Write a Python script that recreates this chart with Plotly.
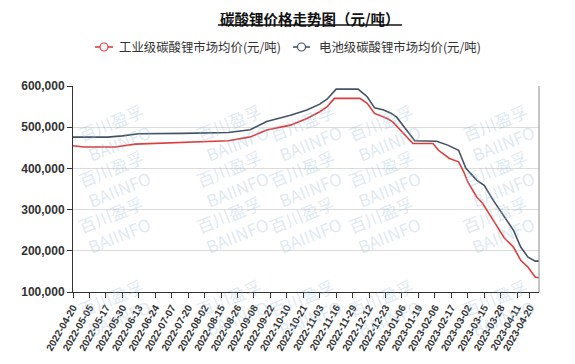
import plotly.graph_objects as go

# ---- data (trading-day index along the category axis, price in 元/吨) ----
tick_labels = [
    "2022-04-20", "2022-05-05", "2022-05-17", "2022-05-30", "2022-06-13", "2022-06-24",
    "2022-07-07", "2022-07-20", "2022-08-02", "2022-08-15", "2022-08-26", "2022-09-08",
    "2022-09-22", "2022-10-10", "2022-10-21", "2022-11-03", "2022-11-16", "2022-11-29",
    "2022-12-12", "2022-12-23", "2023-01-06", "2023-01-19", "2023-02-06", "2023-02-17",
    "2023-03-02", "2023-03-15", "2023-03-28", "2023-04-11", "2023-04-20",
]
tick_index = [0, 9, 18, 27, 36, 45, 54, 63, 72, 81, 90, 99, 108, 117, 126, 135, 144,
              153, 162, 171, 180, 189, 198, 207, 216, 225, 234, 243, 250]

industrial_idx = [0, 6, 23, 28, 34, 85, 97, 106, 119, 128, 135, 139, 143, 157, 161, 165,
                  172, 175, 181, 186, 197, 200, 206, 211, 214, 216, 221, 224, 230, 236,
                  241, 245, 249, 253, 255]
industrial_val = [455000, 452000, 452000, 456000, 459000, 467000, 476500, 493000, 505000,
                  521000, 537500, 549500, 570000, 570000, 558000, 533500, 521000, 513000,
                  485000, 460500, 460500, 444000, 424000, 416000, 390000, 367000, 330000,
                  316000, 274000, 231000, 209000, 177000, 160000, 136000, 135000]

battery_idx = [0, 19, 27, 36, 60, 85, 97, 106, 119, 128, 135, 139, 144, 156, 161, 165,
               170, 174, 177, 183, 187, 199, 205, 211, 215, 221, 225, 230, 236, 241, 245,
               249, 253, 255]
battery_val = [476000, 476000, 479000, 484000, 485000, 487000, 494000, 514000, 529000,
               542000, 556000, 568000, 592500, 592500, 574000, 547000, 542000, 534000,
               525000, 489000, 467000, 466000, 456500, 444000, 400000, 371000, 359000,
               322500, 282000, 250000, 209000, 184500, 175000, 175000]

series_names = ["工业级碳酸锂市场均价(元/吨)", "电池级碳酸锂市场均价(元/吨)"]
series_colors = ["#dc3e3e", "#435366"]
title_text = "碳酸锂价格走势图（元/吨）"

# ---- layout geometry (pixels in the 575x364 window) ----
W, H = 575, 364
OFF = 8  # default page body margin offsets the figure by 8px
L, R, T, B = 73, 539, 86, 292


def px(x, y):
    return (x - L) / (R - L), (B - y) / (B - T)


fig = go.Figure()
for xs, ys, name, col in [(industrial_idx, industrial_val, series_names[0], series_colors[0]),
                          (battery_idx, battery_val, series_names[1], series_colors[1])]:
    fig.add_trace(go.Scatter(x=xs, y=ys, mode="lines", line=dict(color=col, width=1.6),
                             showlegend=False, name=name))

ann = []
shapes = []

# watermark
for cy in [95, 178, 262, 345]:
    for cx in [72, 190, 306, 428, 542]:
        xp, yp = px(cx, cy)
        ann.append(dict(x=xp, y=yp, xref="paper", yref="paper", showarrow=False,
                        text="百川盈孚<br>BAIINFO", textangle=-22,
                        font=dict(family="Noto Sans CJK SC", size=17,
                                  color="rgba(150,185,215,0.33)"),
                        align="center"))

# title + underline
tx, ty = px(310, 18.5)
ann.append(dict(x=tx, y=ty, xref="paper", yref="paper", showarrow=False, text=title_text,
                xanchor="center", yanchor="middle", borderpad=0,
                font=dict(family="Noto Sans CJK SC", size=14.5, color="#111", weight="bold")))
ux0, uy = px(218, 25)
ux1, _ = px(402, 25)
shapes.append(dict(type="line", xref="paper", yref="paper", x0=ux0, x1=ux1, y0=uy, y1=uy,
                   line=dict(color="#111", width=1.5)))

# right frame line
shapes.append(dict(type="line", xref="paper", yref="paper", x0=1, x1=1, y0=0, y1=1,
                   line=dict(color="#a0a0a0", width=1.2)))

# legend (line + hollow circle + label)
legend_pos = [(95, 113, 117), (293, 310, 317)]
for (x0, x1, xt), name, col in zip(legend_pos, series_names, series_colors):
    a, yy = px(x0, 47)
    b, _ = px(x1, 47)
    shapes.append(dict(type="line", xref="paper", yref="paper", x0=a, x1=b, y0=yy, y1=yy,
                       line=dict(color=col, width=1.6)))
    c0x, c0y = px((x0 + x1) / 2 - 4, 51)
    c1x, c1y = px((x0 + x1) / 2 + 4, 43)
    shapes.append(dict(type="circle", xref="paper", yref="paper", x0=c0x, x1=c1x,
                       y0=c0y, y1=c1y, fillcolor="white", line=dict(color=col, width=1.2)))
    t, _ = px(xt, 47)
    ann.append(dict(x=t, y=yy, xref="paper", yref="paper", showarrow=False, text=name,
                    xanchor="left", yanchor="middle",
                    font=dict(family="Noto Sans CJK SC", size=12.4, color="#333")))

fig.update_layout(
    width=W - OFF, height=H - OFF,
    margin=dict(l=L - OFF, r=W - R, t=T - OFF, b=H - B, autoexpand=False),
    paper_bgcolor="white", plot_bgcolor="white",
    showlegend=False,
    annotations=ann,
    shapes=shapes,
    xaxis=dict(range=[0, 255], tickmode="array", tickvals=tick_index, ticktext=tick_labels,
               tickangle=-60, ticks="outside", ticklen=5, tickcolor="#333",
               showline=True, linecolor="#333", linewidth=1, showgrid=False, zeroline=False,
               tickfont=dict(family="Liberation Sans", size=10, color="#333", weight="bold")),
    yaxis=dict(range=[100000, 600000], tickvals=[100000, 200000, 300000, 400000, 500000, 600000],
               tickformat=",d", ticks="outside", ticklen=5, tickcolor="#333",
               showline=True, linecolor="#333", linewidth=1, showgrid=True,
               gridcolor="#dcdcdc", gridwidth=1, zeroline=False,
               tickfont=dict(family="Liberation Sans", size=12, color="#333", weight="bold")),
)
fig.write_html("out.html")
